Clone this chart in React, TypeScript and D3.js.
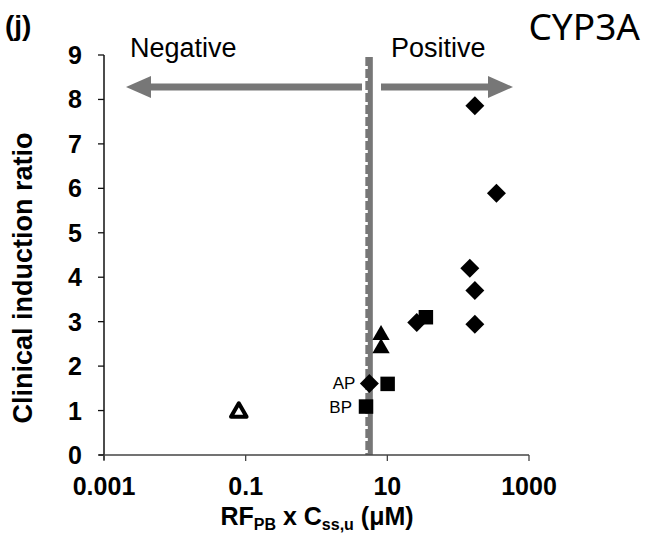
import React from "react";
import * as d3 from "d3";

// Induction data: x = RF_PB x Css,u (µM), y = clinical induction ratio
const diamondX = [172, 347, 146, 172, 172, 26, 5.58];
const diamondY = [7.86, 5.89, 4.2, 3.7, 2.94, 2.98, 1.61];
const squareX = [35, 10.1, 5.0];
const squareY = [3.1, 1.6, 1.09];
const triangleX = [8.15, 8.15];
const triangleY = [2.7, 2.4];
const openTriangleX = [0.08];
const openTriangleY = [0.96];

const pointLabels = [
  { text: "AP", x: 5.58, y: 1.61 },
  { text: "BP", x: 5.0, y: 1.09 },
];

const xTicks = [0.001, 0.1, 10, 1000];
const xTickLabels = ["0.001", "0.1", "10", "1000"];
const yTicks = [0, 1, 2, 3, 4, 5, 6, 7, 8, 9];
const cutoff = 5.48;

const W = 654;
const H = 533;
const left = 104;
const right = 529;
const top = 55;
const bottom = 455;

export default function App() {
  const x = d3.scaleLog().domain([0.001, 1000]).range([left, right]);
  const y = d3.scaleLinear().domain([0, 9]).range([bottom, top]);

  const diamond = d3.symbol().type(d3.symbolSquare).size(180)();
  const square = d3.symbol().type(d3.symbolSquare).size(210)();
  const tri = d3.symbol().type(d3.symbolTriangle).size(130)();
  const openTri = d3.symbol().type(d3.symbolTriangle).size(105)();

  const arrowY = 87;
  const gray = "#777";
  const cx = x(cutoff);
  const sans = "Liberation Sans, Arial, sans-serif";
  const bold = { fontFamily: sans, fontWeight: 700 };

  return (
    <svg width={W} height={H} style={{ position: "absolute", left: 0, top: 0 }}>
      <rect width={W} height={H} fill="#fff" />
      <text x={5} y={35} fontSize={28} {...bold}>(j)</text>
      <text x={640} y={40} fontSize={37} textAnchor="end" fontFamily="Noto Sans, sans-serif">CYP3A</text>

      {/* negative / positive arrows */}
      <text x={130} y={57} fontSize={27} fontFamily={sans}>Negative</text>
      <text x={391} y={57} fontSize={27} fontFamily={sans}>Positive</text>
      <line x1={148} x2={362} y1={arrowY} y2={arrowY} stroke={gray} strokeWidth={7} />
      <path d={`M126,${arrowY} L151,${arrowY - 11} L151,${arrowY + 11} Z`} fill={gray} />
      <line x1={381} x2={492} y1={arrowY} y2={arrowY} stroke={gray} strokeWidth={7} />
      <path d={`M513,${arrowY} L488,${arrowY - 11} L488,${arrowY + 11} Z`} fill={gray} />

      {/* cutoff line */}
      <line x1={cx + 1.5} x2={cx + 1.5} y1={57} y2={bottom} stroke={gray} strokeWidth={5} />
      <line x1={cx - 2} x2={cx - 2} y1={57} y2={bottom} stroke={gray} strokeWidth={3} strokeDasharray="9,3" />

      {/* axes */}
      <line x1={left} x2={left} y1={top} y2={bottom + 5} stroke="#111" strokeWidth={1.5} />
      <line x1={left - 5} x2={right} y1={bottom} y2={bottom} stroke="#444" strokeWidth={1.5} />
      {yTicks.map((t) => (
        <g key={t}>
          <line x1={left - 6} x2={left} y1={y(t)} y2={y(t)} stroke="#111" strokeWidth={1.3} />
          <text x={82} y={y(t) + 9} fontSize={25} textAnchor="end" {...bold}>{t}</text>
        </g>
      ))}
      {xTicks.map((t, i) => (
        <g key={t}>
          <line x1={x(t)} x2={x(t)} y1={bottom} y2={bottom + 6} stroke="#444" strokeWidth={1.3} />
          <text x={x(t)} y={495} fontSize={25} textAnchor="middle" {...bold}>{xTickLabels[i]}</text>
        </g>
      ))}
      <text x={317} y={525} fontSize={25} textAnchor="middle" {...bold}>
        RF<tspan fontSize={16} dy={5}>PB</tspan>
        <tspan dy={-5}> x C</tspan>
        <tspan fontSize={16} dy={5}>ss,u</tspan>
        <tspan dy={-5}> (μM)</tspan>
      </text>
      <text transform={`translate(32,278) rotate(-90)`} fontSize={27} textAnchor="middle" {...bold}>
        Clinical induction ratio
      </text>

      {/* markers */}
      {diamondX.map((v, i) => (
        <path key={`d${i}`} d={diamond} transform={`translate(${x(v)},${y(diamondY[i])}) rotate(45)`} fill="#000" />
      ))}
      {squareX.map((v, i) => (
        <path key={`s${i}`} d={square} transform={`translate(${x(v)},${y(squareY[i])})`} fill="#000" />
      ))}
      {triangleX.map((v, i) => (
        <path key={`t${i}`} d={tri} transform={`translate(${x(v)},${y(triangleY[i])})`} fill="#000" />
      ))}
      {openTriangleX.map((v, i) => (
        <path key={`o${i}`} d={openTri} transform={`translate(${x(v)},${y(openTriangleY[i])})`} fill="#fff" stroke="#000" strokeWidth={4} strokeLinejoin="round" />
      ))}
      {pointLabels.map((p) => (
        <text key={p.text} x={x(p.x) - 14} y={y(p.y) + 6} fontSize={17} textAnchor="end" fontFamily={sans}>
          {p.text}
        </text>
      ))}
    </svg>
  );
}
